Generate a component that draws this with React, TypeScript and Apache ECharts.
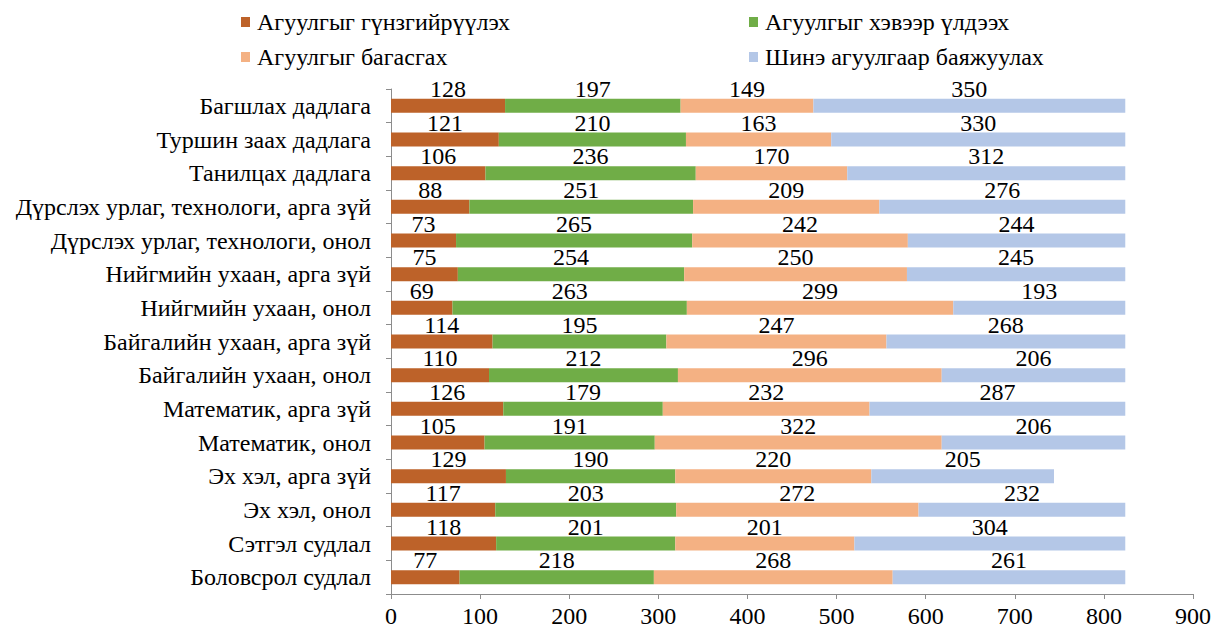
import React, { useEffect, useRef } from "react";
import * as echarts from "echarts";

// Categories listed bottom-to-top (ECharts category axis starts at bottom)
const categories = [
  "Боловсрол судлал",
  "Сэтгэл судлал",
  "Эх хэл, онол",
  "Эх хэл, арга зүй",
  "Математик, онол",
  "Математик, арга зүй",
  "Байгалийн ухаан, онол",
  "Байгалийн ухаан, арга зүй",
  "Нийгмийн ухаан, онол",
  "Нийгмийн ухаан, арга зүй",
  "Дүрслэх урлаг, технологи, онол",
  "Дүрслэх урлаг, технологи, арга зүй",
  "Танилцах дадлага",
  "Туршин заах дадлага",
  "Багшлах дадлага",
];

const seriesNames = [
  "Агуулгыг гүнзгийрүүлэх",
  "Агуулгыг хэвээр үлдээх",
  "Агуулгыг багасгах",
  "Шинэ агуулгаар баяжуулах",
];

const deepen = [77, 118, 117, 129, 105, 126, 110, 114, 69, 75, 73, 88, 106, 121, 128];
const keep = [218, 201, 203, 190, 191, 179, 212, 195, 263, 254, 265, 251, 236, 210, 197];
const reduce = [268, 201, 272, 220, 322, 232, 296, 247, 299, 250, 242, 209, 170, 163, 149];
const enrich = [261, 304, 232, 205, 206, 287, 206, 268, 193, 245, 244, 276, 312, 330, 350];

const xTicks = { min: 0, max: 900, interval: 100 };

const colors = ["#BD6229", "#70AD47", "#F4B183", "#B4C7E7"];

const FONT = "'Liberation Serif', 'Times New Roman', serif";
const FS = 24;

export default function App() {
  const ref = useRef<HTMLDivElement>(null);

  useEffect(() => {
    if (!ref.current) return;
    const chart = echarts.init(ref.current, undefined, { renderer: "svg" });
    const dataSets = [deepen, keep, reduce, enrich];
    const legendPos = [
      { left: 241, top: 10 },
      { left: 749, top: 10 },
      { left: 241, top: 45 },
      { left: 749, top: 45 },
    ];
    chart.setOption({
      animation: false,
      color: colors,
      textStyle: { fontFamily: FONT },
      legend: seriesNames.map((n, i) => ({
        data: [n],
        left: legendPos[i].left,
        top: legendPos[i].top,
        icon: "rect",
        itemWidth: 9,
        itemHeight: 10,
        itemGap: 0,
        padding: 0,
        textStyle: { fontFamily: FONT, fontSize: FS, color: "#000", padding: [0, 0, 0, 2] },
        selectedMode: false,
      })),
      grid: { left: 391, right: 21, top: 89, bottom: 37, containLabel: false },
      xAxis: {
        type: "value",
        min: xTicks.min,
        max: xTicks.max,
        interval: xTicks.interval,
        axisLine: { show: true, lineStyle: { color: "#8c8c8c", width: 1 } },
        axisTick: { show: true, length: 5, lineStyle: { color: "#8c8c8c" } },
        splitLine: { show: false },
        axisLabel: { color: "#000", fontFamily: FONT, fontSize: FS, margin: 10 },
      },
      yAxis: {
        type: "category",
        data: categories,
        axisLine: { show: true, lineStyle: { color: "#8c8c8c", width: 1 } },
        axisTick: { show: true, length: 5, lineStyle: { color: "#8c8c8c" } },
        axisLabel: { color: "#000", fontFamily: FONT, fontSize: FS, margin: 20 },
      },
      series: dataSets.map((d, i) => ({
        name: seriesNames[i],
        type: "bar",
        stack: "total",
        barWidth: 14,
        data: d,
        itemStyle: { color: colors[i] },
        label: {
          show: true,
          position: "top",
          distance: -2,
          color: "#000",
          fontFamily: FONT,
          fontSize: FS,
        },
      })),
    });
    return () => chart.dispose();
  }, []);

  return <div ref={ref} style={{ width: 1214, height: 631, position: "absolute", left: 0, top: 0 }} />;
}
